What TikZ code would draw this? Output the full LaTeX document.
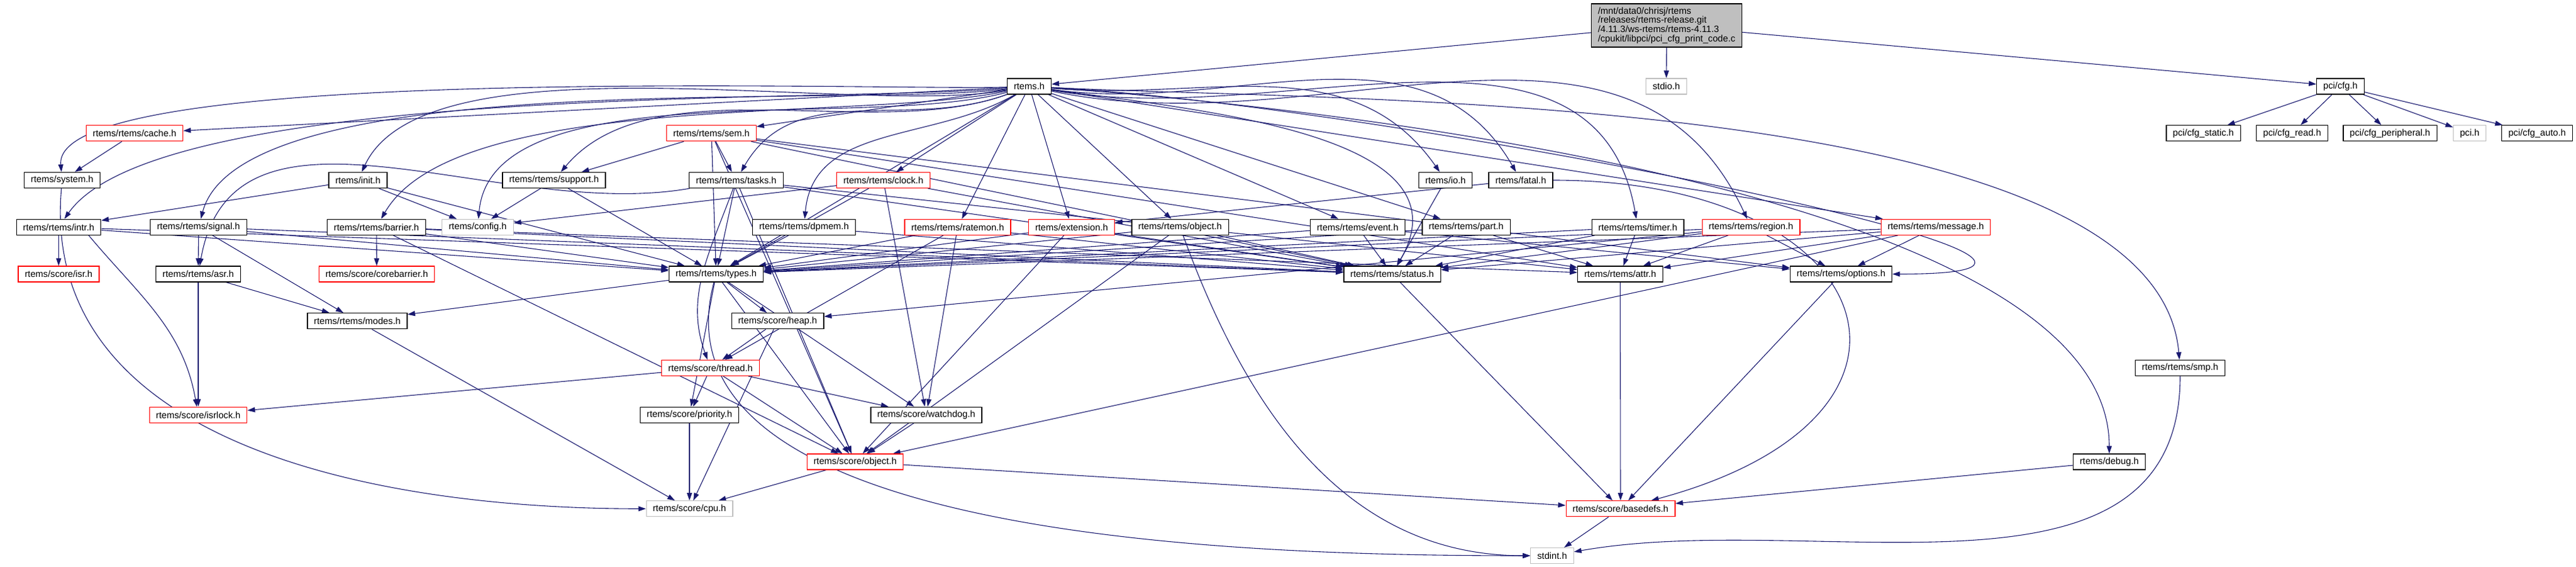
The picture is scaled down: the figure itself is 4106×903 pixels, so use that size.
\documentclass[tikz,border=0pt]{standalone}
\usepackage{fontspec}
\setmainfont{Liberation Sans}
\usetikzlibrary{arrows.meta}
\definecolor{edgeblue}{RGB}{25,25,112}
\definecolor{extgray}{RGB}{191,191,191}
\pgfdeclarelayer{edges}
\pgfsetlayers{edges,main}

\begin{document}
\begin{tikzpicture}[x=0.5pt,y=0.5pt]

      \tikzstyle{hfile}=[rectangle,draw=black,fill=white,line width=0.6pt,
        minimum height=12.5pt,inner xsep=5.25pt,inner ysep=0pt,
        font=\fontsize{7.35}{7.4}\selectfont]
      \tikzstyle{cut}=[hfile,draw=red]
      \tikzstyle{ext}=[hfile,draw=extgray]
      \tikzstyle{incl}=[-{Triangle[length=6pt,width=4pt]},edgeblue,line width=0.55pt]

      \useasboundingbox (0,0) rectangle (4106,-903);

      % top
      \node(Title)[hfile,fill=extgray,align=left,minimum height=34.5pt]
        at (2656.5,-40.5){/mnt/data0/chrisj/rtems\\/releases/rtems-release.git\\
        /4.11.3/ws-rtems/rtems-4.11.3\\/cpukit/libpci/pci\_cfg\_print\_code.c};
      \node(Rtems)[hfile] at (1640.5,-137.5){rtems.h};
      \node(Stdio)[ext] at (2656,-137.5){stdio.h};
      \node(PciCfg)[hfile] at (3730.5,-137.5){pci/cfg.h};

      % row 2
      \node(Cache)[cut] at (214.5,-212.25){rtems/rtems/cache.h};
      \node(Sem)[cut] at (1134,-212.25){rtems/rtems/sem.h};
      \node(CfgStatic)[hfile] at (3512,-212.25){pci/cfg\_static.h};
      \node(CfgRead)[hfile] at (3653.5,-212.25){pci/cfg\_read.h};
      \node(CfgPeriph)[hfile] at (3809.5,-212.25){pci/cfg\_peripheral.h};
      \node(Pci)[ext] at (3936.5,-212.25){pci.h};
      \node(CfgAuto)[hfile] at (4044,-212.25){pci/cfg\_auto.h};

      % row 3
      \node(System)[hfile] at (99,-287){rtems/system.h};
      \node(Init)[hfile] at (570.5,-287){rtems/init.h};
      \node(Support)[hfile] at (883,-287){rtems/rtems/support.h};
      \node(Tasks)[hfile] at (1173.5,-287){rtems/rtems/tasks.h};
      \node(Clock)[cut] at (1408,-287){rtems/rtems/clock.h};
      \node(Io)[hfile] at (2304,-287){rtems/io.h};
      \node(Fatal)[hfile] at (2424,-287){rtems/fatal.h};

      % row 4
      \node(Intr)[hfile] at (93.5,-361.75){rtems/rtems/intr.h};
      \node(Signal)[hfile] at (316.5,-361.75){rtems/rtems/signal.h};
      \node(Barrier)[hfile] at (600,-361.75){rtems/rtems/barrier.h};
      \node(Config)[ext] at (761.5,-361.75){rtems/config.h};
      \node(Dpmem)[hfile] at (1281.5,-361.75){rtems/rtems/dpmem.h};
      \node(Ratemon)[cut] at (1526.5,-361.75){rtems/rtems/ratemon.h};
      \node(Extension)[cut] at (1708,-361.75){rtems/extension.h};
      \node(RObject)[hfile] at (1881,-361.75){rtems/rtems/object.h};
      \node(Event)[hfile] at (2164,-361.75){rtems/rtems/event.h};
      \node(Part)[hfile] at (2337,-361.75){rtems/rtems/part.h};
      \node(Timer)[hfile] at (2610.5,-361.75){rtems/rtems/timer.h};
      \node(Region)[cut] at (2791,-361.75){rtems/rtems/region.h};
      \node(Message)[cut] at (3085.5,-361.75){rtems/rtems/message.h};

      % row 5
      \node(Isr)[cut] at (93.5,-436.5){rtems/score/isr.h};
      \node(Asr)[hfile] at (316,-436.5){rtems/rtems/asr.h};
      \node(Corebarrier)[cut] at (600.5,-436.5){rtems/score/corebarrier.h};
      \node(Types)[hfile] at (1141.5,-436.5){rtems/rtems/types.h};
      \node(Status)[hfile] at (2219,-436.5){rtems/rtems/status.h};
      \node(Attr)[hfile] at (2582.5,-436.5){rtems/rtems/attr.h};
      \node(Options)[hfile] at (2934.5,-436.5){rtems/rtems/options.h};

      % score level
      \node(Modes)[hfile] at (569.5,-511.25){rtems/rtems/modes.h};
      \node(Heap)[hfile] at (1239.5,-511.25){rtems/score/heap.h};
      \node(Thread)[cut] at (1132.5,-586){rtems/score/thread.h};
      \node(Smp)[hfile] at (3475,-586){rtems/rtems/smp.h};
      \node(Isrlock)[cut] at (316,-660.75){rtems/score/isrlock.h};
      \node(Priority)[hfile] at (1099,-660.75){rtems/score/priority.h};
      \node(Watchdog)[hfile] at (1476.5,-660.75){rtems/score/watchdog.h};
      \node(SObject)[cut] at (1363,-735.5){rtems/score/object.h};
      \node(Debug)[hfile] at (3362,-735.5){rtems/debug.h};
      \node(Cpu)[ext] at (1099,-810.25){rtems/score/cpu.h};
      \node(Basedefs)[cut] at (2583,-810.25){rtems/score/basedefs.h};
      \node(Stdint)[ext] at (2474,-885){stdint.h};

      \begin{pgfonlayer}{edges}
      \fill[white] (0,0) rectangle (4106,-903);
      % pci_cfg_print_code.c
      \draw [incl] (Title)--(Rtems);
      \draw [incl] (Title)--(Stdio);
      \draw [incl] (Title)--(PciCfg);
      \draw [incl] (PciCfg)--(CfgStatic);
      \draw [incl] (PciCfg)--(CfgRead);
      \draw [incl] (PciCfg)--(CfgPeriph);
      \draw [incl] (PciCfg)--(Pci);
      \draw [incl] (PciCfg)--(CfgAuto);

      % rtems.h
      \draw [incl] (Rtems)--(Cache);
      \draw [incl] (Rtems) to[out=182,in=95,looseness=0.3] (System);
      \draw [incl] (Rtems) to[out=185,in=55,looseness=0.45] (Intr);
      \draw [incl] (Rtems) to[out=187,in=75,looseness=0.5] (Signal);
      \draw [incl] (Rtems) to[out=190,in=65,looseness=0.6] (Init);
      \draw [incl] (Rtems) to[out=192,in=60,looseness=0.6] (Barrier);
      \draw [incl] (Rtems) to[out=195,in=85,looseness=0.7] (Config);
      \draw [incl] (Rtems) to[out=200,in=50,looseness=0.8] (Support);
      \draw [incl] (Rtems)--(Sem);
      \draw [incl] (Rtems) to[out=200,in=60] (Tasks);
      \draw [incl] (Rtems)--(Clock);
      \draw [incl] (Rtems) to[out=210,in=85] (Dpmem);
      \draw [incl] (Rtems)--(Ratemon);
      \draw [incl] (Rtems)--(Extension);
      \draw [incl] (Rtems)--(RObject);
      \draw [incl] (Rtems)--(Types);
      \draw [incl] (Rtems) to[out=-5,in=125] (Io);
      \draw [incl] (Rtems) to[out=-8,in=120] (Fatal);
      \draw [incl] (Rtems)--(Event);
      \draw [incl] (Rtems)--(Part);
      \draw [incl] (Rtems) to[out=-10,in=100] (Timer);
      \draw [incl] (Rtems) to[out=-12,in=115] (Region);
      \draw [incl] (Rtems)--(Message);
      \draw [incl] (Rtems) to[out=-8,in=60] (Status);
      \draw [incl] (Rtems) to[out=-3,in=0] (Options);
      \draw [incl] (Rtems) to[out=-3,in=95,looseness=0.6] (Smp);
      \draw [incl] (Rtems) to[out=-4,in=90,looseness=0.6] (Debug);

      % api headers
      \draw [incl] (Cache)--(System);
      \draw [incl] (System) to[out=265,in=180] (Cpu);
      \draw [incl] (Init)--(Intr);
      \draw [incl] (Init)--(Config);
      \draw [incl] (Init)--(Types);
      \draw [incl] (Support)--(Config);
      \draw [incl] (Support)--(Types);
      \draw [incl] (Sem)--(Tasks);
      \draw [incl] (Sem)--(Support);
      \draw [incl] (Sem)--(Types);
      \draw [incl] (Sem)--(Status);
      \draw [incl] (Sem)--(Attr);
      \draw [incl] (Sem)--(Options);
      \draw [incl] (Sem)--(SObject);
      \draw [incl] (Tasks) to[out=190,in=80] (Asr);
      \draw [incl] (Tasks)--(Types);
      \draw [incl] (Tasks)--(Status);
      \draw [incl] (Tasks)--(Attr);
      \draw [incl] (Tasks) to[out=250,in=110] (Thread);
      \draw [incl] (Tasks)--(SObject);
      \draw [incl] (Clock)--(Config);
      \draw [incl] (Clock)--(Types);
      \draw [incl] (Clock)--(Status);
      \draw [incl] (Clock)--(Watchdog);
      \draw [incl] (Intr)--(Isr);
      \draw [incl] ([xshift=-10pt]Intr.south east) to[out=-50,in=100] (Isrlock);
      \draw [incl] (Intr)--(Types);
      \draw [incl] (Intr)--(Status);
      \draw [incl] (Signal)--(Asr);
      \draw [incl] (Signal)--(Modes);
      \draw [incl] (Signal)--(Types);
      \draw [incl] (Signal)--(Status);
      \draw [incl] (Asr)--(Modes);
      \draw [incl] (Asr)--(Isrlock);
      \draw [incl] (Barrier)--(Corebarrier);
      \draw [incl] (Barrier)--(Types);
      \draw [incl] (Barrier)--(Status);
      \draw [incl] (Barrier)--(Attr);
      \draw [incl] (Barrier)--(SObject);
      \draw [incl] (Dpmem)--(Types);
      \draw [incl] (Dpmem)--(Status);
      \draw [incl] (Ratemon)--(Types);
      \draw [incl] (Ratemon)--(Status);
      \draw [incl] (Ratemon)--(Thread);
      \draw [incl] (Ratemon)--(Watchdog);
      \draw [incl] (Extension)--(Types);
      \draw [incl] (Extension)--(Status);
      \draw [incl] (Extension)--(SObject);
      \draw [incl] (RObject)--(Types);
      \draw [incl] (RObject)--(Status);
      \draw [incl] (RObject)--(SObject);
      \draw [incl] (RObject) to[out=290,in=180] (Stdint);
      \draw [incl] (Event)--(Types);
      \draw [incl] (Event)--(Status);
      \draw [incl] (Event)--(Options);
      \draw [incl] (Part)--(Types);
      \draw [incl] (Part)--(Status);
      \draw [incl] (Part)--(Attr);
      \draw [incl] (Timer)--(Types);
      \draw [incl] (Timer)--(Status);
      \draw [incl] (Timer)--(Attr);
      \draw [incl] (Region)--(Types);
      \draw [incl] (Region)--(Status);
      \draw [incl] (Region)--(Attr);
      \draw [incl] (Region)--(Options);
      \draw [incl] (Region)--(Heap);
      \draw [incl] (Message)--(Types);
      \draw [incl] (Message)--(Status);
      \draw [incl] (Message)--(Attr);
      \draw [incl] (Message)--(Options);
      \draw [incl] (Message)--(SObject);
      \draw [incl] (Io)--(Status);
      \draw [incl] (Fatal)--(Extension);
      \draw [incl] (Fatal) to[out=0,in=15,looseness=2.5] (Basedefs);

      % types.h and score
      \draw [incl] (Types)--(Modes);
      \draw [incl] (Types)--(Heap);
      \draw [incl] (Types)--(Priority);
      \draw [incl] (Types)--(Watchdog);
      \draw [incl] (Types)--(SObject);
      \draw [incl] (Types) to[out=255,in=180,looseness=0.8] (Stdint);
      \draw [incl] (Modes)--(Cpu);
      \draw [incl] (Heap)--(Thread);
      \draw [incl] (Heap)--(Cpu);
      \draw [incl] (Thread)--(Priority);
      \draw [incl] (Thread)--(Watchdog);
      \draw [incl] (Thread)--(SObject);
      \draw [incl] (Thread)--(Isrlock);
      \draw [incl] (Priority)--(Cpu);
      \draw [incl] (Watchdog)--(SObject);
      \draw [incl] (SObject)--(Cpu);
      \draw [incl] (SObject)--(Basedefs);
      \draw [incl] (Status)--(Basedefs);
      \draw [incl] (Attr)--(Basedefs);
      \draw [incl] (Options)--(Basedefs);
      \draw [incl] (Debug)--(Basedefs);
      \draw [incl] (Basedefs)--(Stdint);
      \draw [incl] (Smp) to[out=270,in=10] (Stdint);
      \end{pgfonlayer}

    \end{tikzpicture}
\end{document}
